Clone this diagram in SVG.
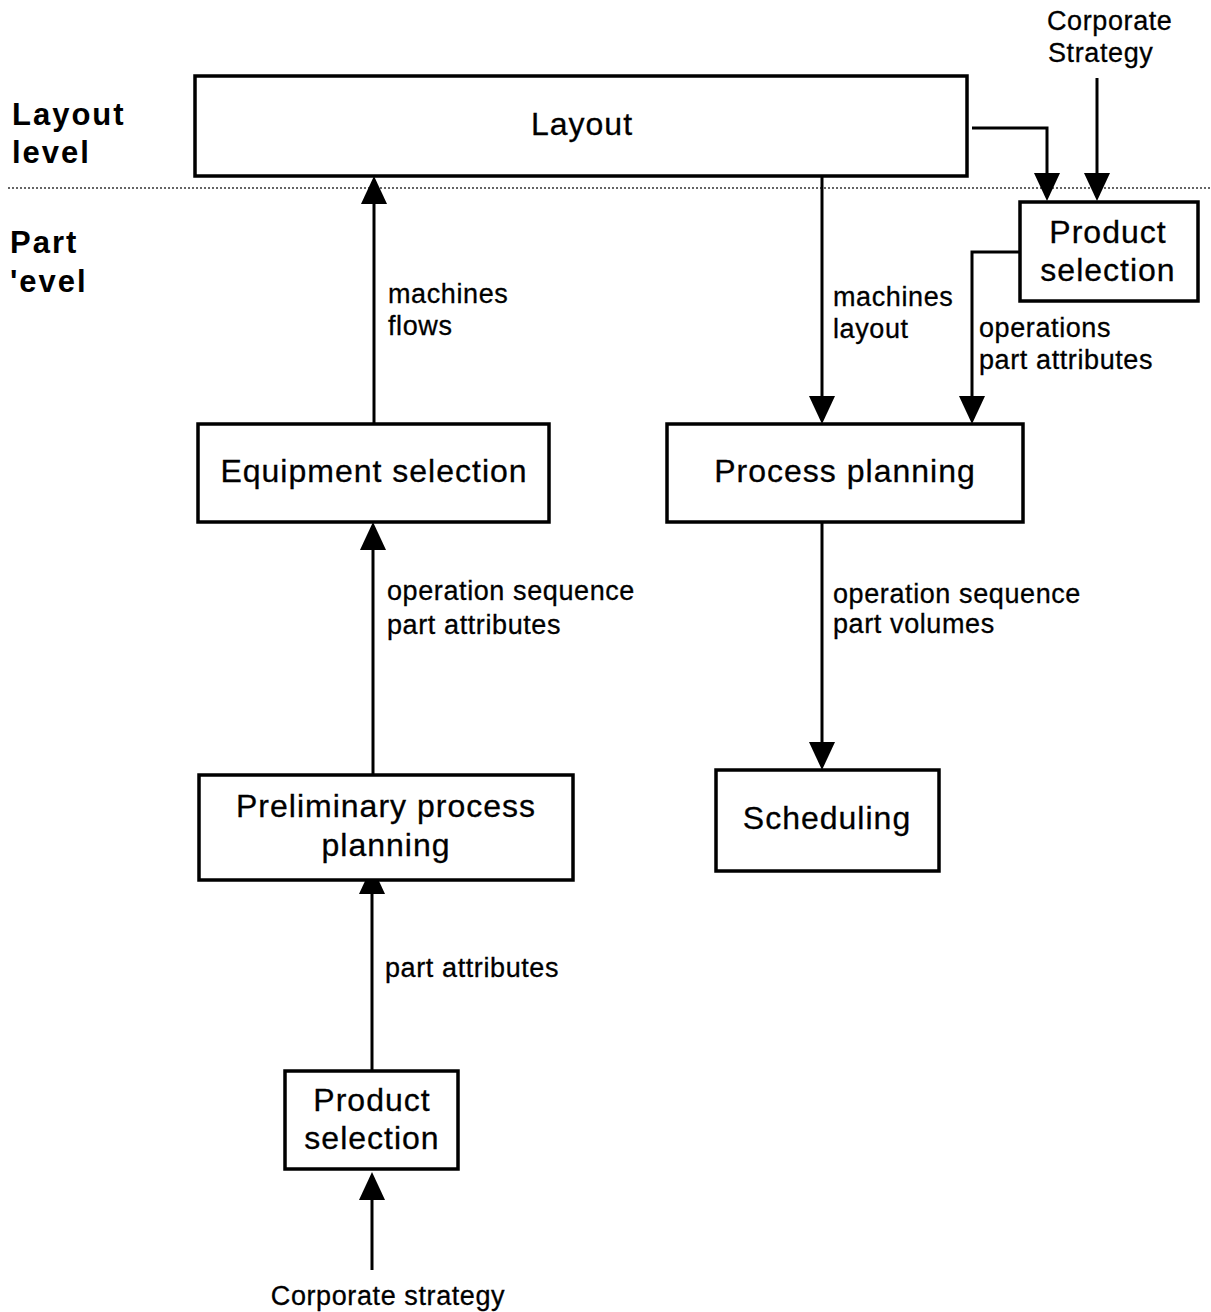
<svg xmlns="http://www.w3.org/2000/svg" width="1211" height="1312" viewBox="0 0 1211 1312">
  <style>
    .box { fill: #fff; stroke: #000; stroke-width: 3.5; }
    .edge { fill: none; stroke: #000; stroke-width: 3; }
    .node-text { font-family: "Liberation Sans", Arial, sans-serif; font-size: 32px; letter-spacing: 1px; text-anchor: middle; fill: #000; stroke: #000; stroke-width: 0.3; }
    .label { font-family: "Liberation Sans", Arial, sans-serif; font-size: 27px; letter-spacing: 0.6px; fill: #000; stroke: #000; stroke-width: 0.3; }
    .level { font-family: "Liberation Sans", Arial, sans-serif; font-size: 31px; font-weight: bold; letter-spacing: 2px; fill: #000; }
  </style>
  <defs>
    <marker id="arrow" markerUnits="userSpaceOnUse" markerWidth="28" markerHeight="26" refX="0" refY="13" orient="auto">
      <path d="M0,0 L28,13 L0,26 Z" fill="#000"/>
    </marker>
  </defs>

  <rect width="1211" height="1312" fill="#fff"/>

  <!-- level separator -->
  <line x1="8" y1="188" x2="1211" y2="188" stroke="#333" stroke-width="1.5" stroke-dasharray="2 2"/>

  <g id="level-labels">
    <text class="level" x="12" y="125">Layout</text>
    <text class="level" x="12" y="163">level</text>
    <text class="level" x="10" y="253">Part</text>
    <text class="level" x="10" y="292">'evel</text>
  </g>

  <g id="connectors">
    <!-- Equipment selection -> Layout -->
    <line class="edge" x1="374" y1="424" x2="374" y2="204" marker-end="url(#arrow)"/>
    <!-- Layout -> Process planning -->
    <line class="edge" x1="822" y1="176" x2="822" y2="396" marker-end="url(#arrow)"/>
    <!-- Layout -> Product selection -->
    <polyline class="edge" points="972,128 1047,128 1047,173" marker-end="url(#arrow)"/>
    <!-- Corporate Strategy -> Product selection -->
    <line class="edge" x1="1097" y1="78" x2="1097" y2="173" marker-end="url(#arrow)"/>
    <!-- Product selection -> Process planning -->
    <polyline class="edge" points="1020,252 972,252 972,396" marker-end="url(#arrow)"/>
    <!-- Process planning -> Scheduling -->
    <line class="edge" x1="822" y1="522" x2="822" y2="742" marker-end="url(#arrow)"/>
    <!-- Preliminary process planning -> Equipment selection -->
    <line class="edge" x1="373" y1="775" x2="373" y2="550" marker-end="url(#arrow)"/>
    <!-- Product selection -> Preliminary process planning -->
    <line class="edge" x1="372" y1="1071" x2="372" y2="894" marker-end="url(#arrow)"/>
    <!-- Corporate strategy -> Product selection -->
    <line class="edge" x1="372" y1="1270" x2="372" y2="1200" marker-end="url(#arrow)"/>

    <text class="label" x="388" y="303">machines</text>
    <text class="label" x="388" y="335">flows</text>
    <text class="label" x="833" y="306">machines</text>
    <text class="label" x="833" y="338">layout</text>
    <text class="label" x="979" y="337">operations</text>
    <text class="label" x="979" y="369">part attributes</text>
    <text class="label" x="387" y="600">operation  sequence</text>
    <text class="label" x="387" y="634">part  attributes</text>
    <text class="label" x="833" y="603">operation  sequence</text>
    <text class="label" x="833" y="633">part volumes</text>
    <text class="label" x="385" y="977">part attributes</text>
    <text class="label" x="1047" y="30">Corporate</text>
    <text class="label" x="1048" y="62">Strategy</text>
    <text class="label" x="388" y="1305" text-anchor="middle">Corporate strategy</text>
  </g>

  <g id="layout">
    <rect class="box" x="195" y="76" width="772" height="100"/>
    <text class="node-text" x="582" y="135">Layout</text>
  </g>

  <g id="product-selection-top">
    <rect class="box" x="1020" y="202" width="178" height="99"/>
    <text class="node-text" x="1108" y="243">Product</text>
    <text class="node-text" x="1108" y="281">selection</text>
  </g>

  <g id="equipment-selection">
    <rect class="box" x="198" y="424" width="351" height="98"/>
    <text class="node-text" x="374" y="482">Equipment selection</text>
  </g>

  <g id="process-planning">
    <rect class="box" x="667" y="424" width="356" height="98"/>
    <text class="node-text" x="845" y="482">Process planning</text>
  </g>

  <g id="scheduling">
    <rect class="box" x="716" y="770" width="223" height="101"/>
    <text class="node-text" x="827" y="829">Scheduling</text>
  </g>

  <g id="preliminary-process-planning">
    <rect class="box" x="199" y="775" width="374" height="105"/>
    <text class="node-text" x="386" y="817">Preliminary process</text>
    <text class="node-text" x="386" y="856">planning</text>
  </g>

  <g id="product-selection-bottom">
    <rect class="box" x="285" y="1071" width="173" height="98"/>
    <text class="node-text" x="372" y="1111">Product</text>
    <text class="node-text" x="372" y="1149">selection</text>
  </g>
</svg>
